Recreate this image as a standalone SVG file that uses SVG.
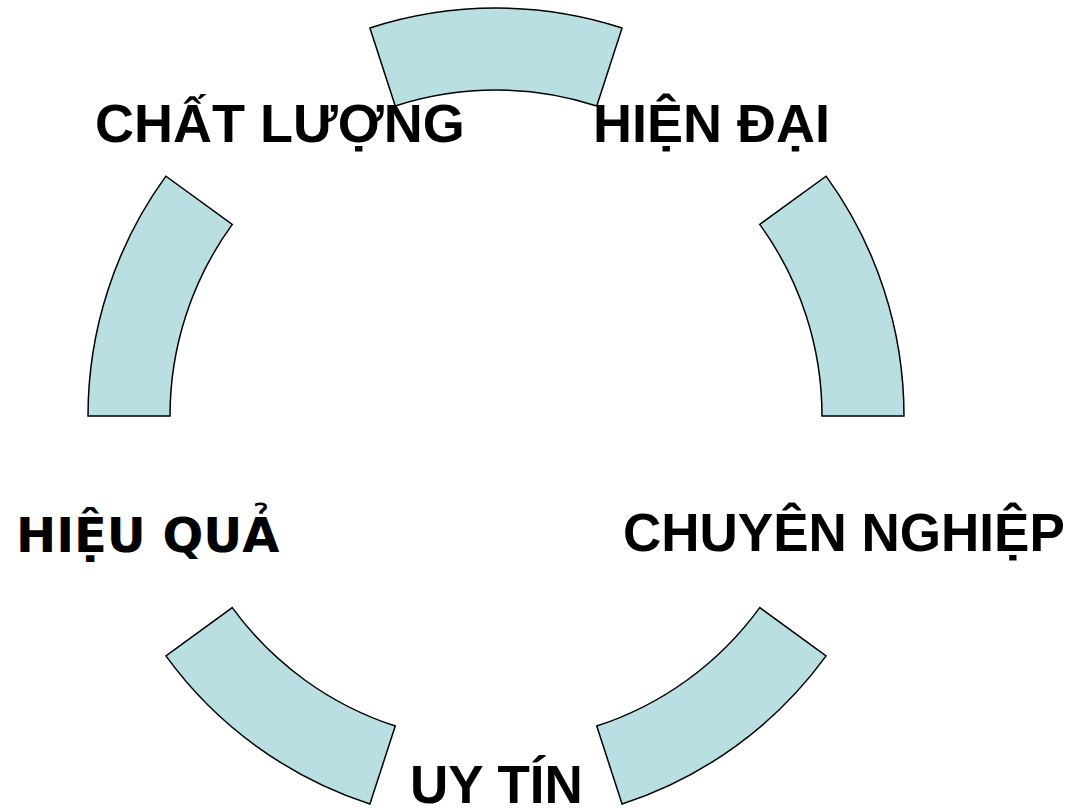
<svg xmlns="http://www.w3.org/2000/svg" width="1072" height="808" viewBox="0 0 1072 808">
<style>
.seg{fill:#B9DFE3;stroke:#000;stroke-width:1.5;stroke-linejoin:miter}
.lbl{font-family:"Liberation Sans",Arial,sans-serif;font-weight:bold;font-size:54px;fill:#000}
.lbl2{font-family:"DejaVu Sans",sans-serif;font-weight:bold;font-size:48px;fill:#000}
</style>
<rect width="1072" height="808" fill="#fff"/>
<g id="segments">
<path id="seg-left" class="seg" d="M 88 416 A 408 408 0 0 1 165.92 176.18 L 232.26 224.38 A 326 326 0 0 0 170 416 Z"/>
<path id="seg-top" class="seg" d="M 369.92 27.97 A 408 408 0 0 1 622.08 27.97 L 596.74 105.96 A 326 326 0 0 0 395.26 105.96 Z"/>
<path id="seg-right" class="seg" d="M 826.08 176.18 A 408 408 0 0 1 904 416 L 822 416 A 326 326 0 0 0 759.74 224.38 Z"/>
<path id="seg-bottomright" class="seg" d="M 826.08 655.82 A 408 408 0 0 1 622.08 804.03 L 596.74 726.04 A 326 326 0 0 0 759.74 607.62 Z"/>
<path id="seg-bottomleft" class="seg" d="M 369.92 804.03 A 408 408 0 0 1 165.92 655.82 L 232.26 607.62 A 326 326 0 0 0 395.26 726.04 Z"/>
</g>
<g id="label-chatluong"><text class="lbl" x="95" y="142">CHẤT LƯỢNG</text></g>
<g id="label-hiendai"><text class="lbl" x="593" y="142">HIỆN ĐẠI</text></g>
<g id="label-hieuqua"><text class="lbl2" x="16" y="552">HIỆU QUẢ</text></g>
<g id="label-chuyennghiep"><text class="lbl" x="623" y="551" style="font-size:53px">CHUYÊN NGHIỆP</text></g>
<g id="label-uytin"><text class="lbl" x="410" y="803" style="font-size:53px">UY TÍN</text></g>
</svg>
